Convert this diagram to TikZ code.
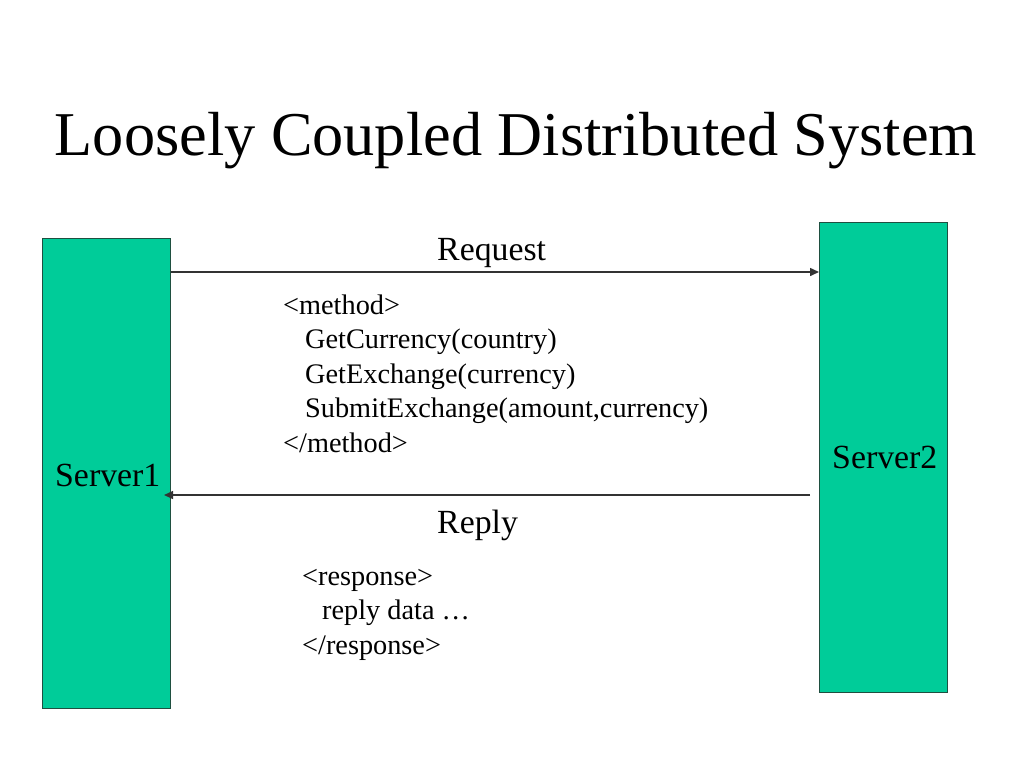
\documentclass[tikz,border=0pt]{standalone}
\usepackage{fontspec}
\setmainfont{Liberation Serif}
\usetikzlibrary{arrows.meta}
\definecolor{srv}{HTML}{00CC99}
\definecolor{srvline}{HTML}{1F4F40}
\definecolor{lin}{HTML}{333333}
\tikzset{
  server/.style={draw=srvline, line width=1.2pt, fill=srv, minimum width=128pt, inner sep=0pt},
  txt/.style={anchor=base west, inner sep=0pt, font=\fontsize{28.3}{34}\selectfont},
  big/.style={anchor=base west, inner sep=0pt, font=\fontsize{33.8}{40}\selectfont},
  arr/.style={draw=lin, line width=1.5pt, -{Triangle[length=9pt,width=8pt]}},
}
\begin{document}
\begin{tikzpicture}[x=1pt,y=-1pt]
\useasboundingbox (0,0) rectangle (1024,768);
\node[anchor=base, inner sep=0pt, font=\fontsize{62.3}{70}\selectfont] (title) at (516,155) {Loosely Coupled Distributed System};
\node[server, minimum height=470pt, anchor=north west] (s1) at (42,238) {};
\node[server, minimum height=470pt, anchor=north west] (s2) at (819,222) {};
\node[big] (s1t) at (55,486) {Server1};
\node[big] (s2t) at (832,468) {Server2};
\coordinate (reqA) at (171,272);
\coordinate (repA) at (810,495);
\coordinate (repB) at (164,495);
\draw[arr] (reqA) -- (reqA -| s2.west);
\draw[arr] (repA) -- (repB);
\node[big] (req) at (437,260) {Request};
\node[txt] (m1) at (283,314) {<method>};
\node[txt] (m2) at (305,348.5) {GetCurrency(country)};
\node[txt] (m3) at (305,383) {GetExchange(currency)};
\node[txt] (m4) at (305,417.5) {SubmitExchange(amount,currency)};
\node[txt] (m5) at (283,452) {</method>};
\node[big] (rep) at (437,533) {Reply};
\node[txt] (r1) at (302,585) {<response>};
\node[txt] (r2) at (322,619.5) {reply data …};
\node[txt] (r3) at (302,654) {</response>};
\end{tikzpicture}
\end{document}
